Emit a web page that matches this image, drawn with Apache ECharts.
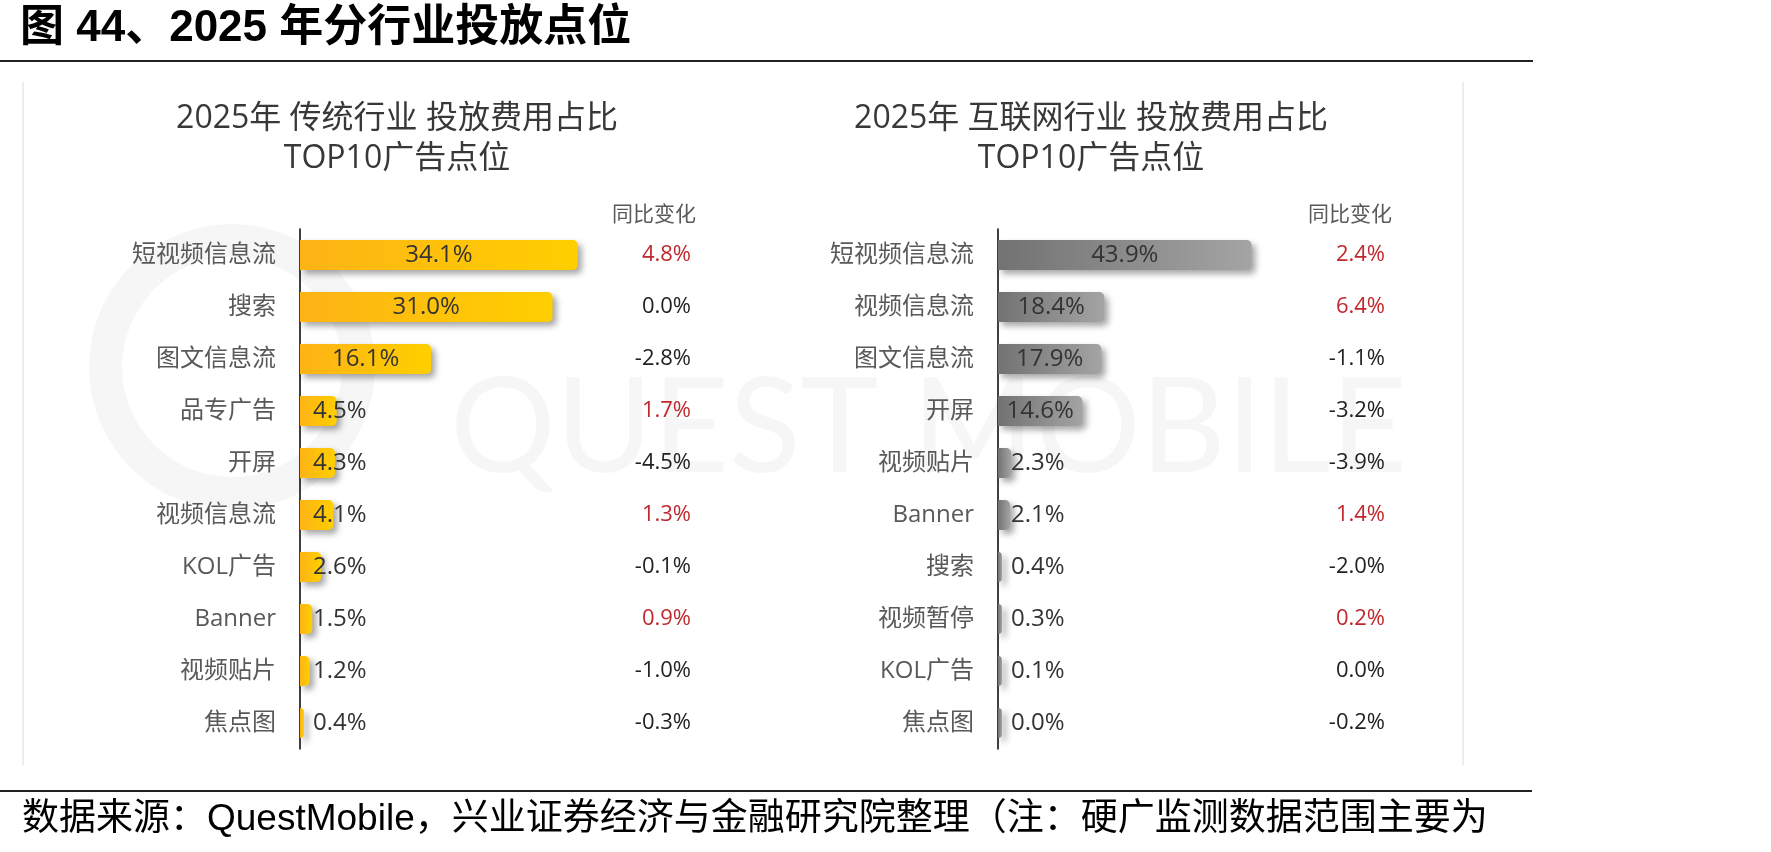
<!DOCTYPE html>
<html><head><meta charset="utf-8">
<script src="https://cdn.jsdelivr.net/npm/echarts@6.0.0/dist/echarts.min.js"></script>
<style>html,body{margin:0;padding:0;background:#fff}#c{width:1771px;height:852px}</style>
</head><body><div id="c"></div>
<script>
// ---- data ----
const catsTrad = ['短视频信息流','搜索','图文信息流','品专广告','开屏','视频信息流','KOL广告','Banner','视频贴片','焦点图'];
const shareTrad = [34.1, 31.0, 16.1, 4.5, 4.3, 4.1, 2.6, 1.5, 1.2, 0.4];
const yoyTrad = [4.8, 0.0, -2.8, 1.7, -4.5, 1.3, -0.1, 0.9, -1.0, -0.3];

const catsNet = ['短视频信息流','视频信息流','图文信息流','开屏','视频贴片','Banner','搜索','视频暂停','KOL广告','焦点图'];
const shareNet = [43.9, 18.4, 17.9, 14.6, 2.3, 2.1, 0.4, 0.3, 0.1, 0.0];
const yoyNet = [2.4, 6.4, -1.1, -3.2, -3.9, 1.4, -2.0, 0.2, 0.0, -0.2];

const mainTitle = '图 44、2025 年分行业投放点位';
const titleTrad = '2025年 传统行业 投放费用占比\nTOP10广告点位';
const titleNet = '2025年 互联网行业 投放费用占比\nTOP10广告点位';
const yoyHeader = '同比变化';
const footer = '数据来源：QuestMobile，兴业证券经济与金融研究院整理（注：硬广监测数据范围主要为';

// ---- chart ----
const FF = "'Open Sans','Noto Sans CJK SC',sans-serif";
const fmt = v => v.toFixed(1) + '%';
const chart = echarts.init(document.getElementById('c'));

function barSeries(gi, vals, c0, c1) {
  return {
    type: 'bar', xAxisIndex: gi, yAxisIndex: gi * 2,
    barWidth: 30, barMinHeight: 4,
    data: vals.map(v => ({ value: v, label: { position: v < 10 ? 'insideLeft' : 'inside', distance: 13 } })),
    itemStyle: {
      color: new echarts.graphic.LinearGradient(0, 0, 1, 0, [{ offset: 0, color: c0 }, { offset: 1, color: c1 }]),
      borderRadius: [0, 5, 5, 0],
      shadowColor: 'rgba(0,0,0,0.35)', shadowBlur: 6, shadowOffsetX: 4, shadowOffsetY: 4
    },
    label: { show: true, formatter: p => fmt(p.value), color: '#333', fontSize: 24, fontFamily: FF },
    emphasis: { disabled: true }
  };
}
function catAxis(gi, cats) {
  return {
    type: 'category', gridIndex: gi, data: cats, inverse: true,
    axisLine: { show: true, lineStyle: { color: '#000', width: 1.5 } },
    axisTick: { show: false }, splitLine: { show: false },
    axisLabel: { margin: 24, fontSize: 24, color: '#595959', fontFamily: FF }
  };
}
function yoyAxis(gi, cats, yoy) {
  return {
    type: 'category', gridIndex: gi, data: cats, inverse: true, position: 'right',
    axisLine: { show: false }, axisTick: { show: false }, splitLine: { show: false },
    axisLabel: {
      margin: 0, align: 'right',
      formatter: (v, i) => (yoy[i] > 0 ? '{up|' : '{dn|') + fmt(yoy[i]) + '}',
      rich: {
        up: { color: '#C0282E', fontSize: 22, fontFamily: FF },
        dn: { color: '#222', fontSize: 22, fontFamily: FF }
      }
    }
  };
}
function txt(x, y, text, style) {
  return { type: 'text', x: x, y: y, z: 5, style: Object.assign({ text: text }, style) };
}

chart.setOption({
  animation: false,
  backgroundColor: '#fff',
  grid: [
    { left: 300, top: 229, width: 391, height: 520 },
    { left: 998, top: 229, width: 387, height: 520 }
  ],
  xAxis: [
    { type: 'value', gridIndex: 0, min: 0, max: 48, show: false },
    { type: 'value', gridIndex: 1, min: 0, max: 67, show: false }
  ],
  yAxis: [catAxis(0, catsTrad), yoyAxis(0, catsTrad, yoyTrad), catAxis(1, catsNet), yoyAxis(1, catsNet, yoyNet)],
  series: [
    barSeries(0, shareTrad, '#FDB316', '#FFCF00'),
    barSeries(1, shareNet, '#727272', '#A4A4A4')
  ],
  graphic: { elements: [
    { type: 'ring', z: -1, shape: { cx: 232, cy: 367, r: 143, r0: 110 }, style: { fill: '#F6F6F6' } },
    { type: 'text', z: -1, x: 450, y: 429, style: { text: 'QUEST MOBILE', fontSize: 132, fontFamily: 'Lato', fontWeight: 'normal', fill: '#F6F6F6', align: 'left', verticalAlign: 'middle' } },
    { type: 'line', shape: { x1: 23, y1: 82, x2: 23, y2: 765 }, style: { stroke: '#DADADA', lineWidth: 1 } },
    { type: 'line', shape: { x1: 1463, y1: 82, x2: 1463, y2: 765 }, style: { stroke: '#DADADA', lineWidth: 1 } },
    { type: 'line', shape: { x1: 0, y1: 61, x2: 1533, y2: 61 }, style: { stroke: '#222', lineWidth: 2 } },
    { type: 'line', shape: { x1: 0, y1: 791, x2: 1532, y2: 791 }, style: { stroke: '#222', lineWidth: 2 } },
    txt(20, 29, mainTitle, { fontSize: 44, fontWeight: 'bold', fontFamily: "'Liberation Sans','Noto Sans CJK SC',sans-serif", fill: '#000', align: 'left', verticalAlign: 'middle' }),
    txt(22, 820, footer, { fontSize: 37, fontFamily: "'Liberation Sans','Noto Sans CJK SC',sans-serif", fill: '#000', align: 'left', verticalAlign: 'middle' }),
    txt(397, 99, titleTrad, { fontSize: 32, lineHeight: 40, fontFamily: FF, fill: '#383838', align: 'center', verticalAlign: 'top' }),
    txt(1091, 99, titleNet, { fontSize: 32, lineHeight: 40, fontFamily: FF, fill: '#383838', align: 'center', verticalAlign: 'top' }),
    txt(696, 215, yoyHeader, { fontSize: 21, fontFamily: FF, fill: '#595959', align: 'right', verticalAlign: 'middle' }),
    txt(1392, 215, yoyHeader, { fontSize: 21, fontFamily: FF, fill: '#595959', align: 'right', verticalAlign: 'middle' })
  ] }
});
</script></body></html>
